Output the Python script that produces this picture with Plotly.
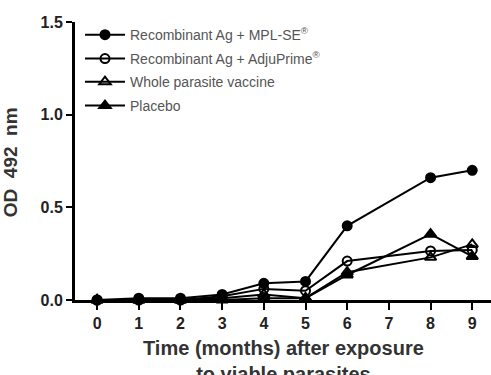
import plotly.graph_objects as go

months = [0, 1, 2, 3, 4, 5, 6, 8, 9]
mpl_se = [0.0, 0.01, 0.01, 0.03, 0.09, 0.10, 0.40, 0.66, 0.70]
adjuprime = [0.0, 0.0, 0.0, 0.02, 0.06, 0.05, 0.21, 0.265, 0.27]
whole_parasite = [0.0, 0.0, 0.0, 0.01, 0.03, 0.01, 0.15, 0.23, 0.30]
placebo = [0.0, 0.0, 0.0, 0.0, 0.01, 0.01, 0.135, 0.355, 0.235]

names = ["Recombinant Ag + MPL-SE<sup>®</sup>",
         "Recombinant Ag + AdjuPrime<sup>®</sup>",
         "Whole parasite vaccine",
         "Placebo"]
symbols = ["circle", "circle-open", "triangle-up-open", "triangle-up"]
series = [mpl_se, adjuprime, whole_parasite, placebo]
legend_ids = ["legend", "legend2", "legend3", "legend4"]
legend_y = [0.953, 0.867, 0.784, 0.698]

x_title = "<b>Time (months) after exposure<br>to viable parasites</b>"
y_title = "<b>OD\u00a0\u00a0492\u00a0\u00a0nm</b>"

fig = go.Figure()
for n, s, y, lg in zip(names, symbols, series, legend_ids):
    fig.add_trace(go.Scatter(
        x=months, y=y, name=n, mode="lines+markers", legend=lg,
        line=dict(color="black", width=2),
        marker=dict(symbol=s, size=9 if "circle" in s else 10, color="black",
                    line=dict(color="black", width=2)),
        cliponaxis=False,
    ))

bold_tick = dict(size=16, color="#222", family="Arial, Liberation Sans, sans-serif", weight="bold")

legend_common = dict(x=0.012, xanchor="left", yanchor="middle",
                     font=dict(size=14, color="#555"), bgcolor="rgba(0,0,0,0)",
                     tracegroupgap=0, itemwidth=40)

fig.update_layout(
    width=491, height=375,
    margin=dict(l=75, r=0, t=22, b=75),
    paper_bgcolor="white", plot_bgcolor="white",
    font=dict(family="Arial, Liberation Sans, sans-serif", color="#333"),
    showlegend=True,
    legend=dict(y=legend_y[0], **legend_common),
    legend2=dict(y=legend_y[1], **legend_common),
    legend3=dict(y=legend_y[2], **legend_common),
    legend4=dict(y=legend_y[3], **legend_common),
    xaxis=dict(range=[-0.53, 9.45], tickmode="array", tickvals=list(range(10)),
               automargin=False,
               showgrid=False, zeroline=False, showline=True, linecolor="black",
               linewidth=3, ticks="outside", ticklen=7, tickwidth=2, tickcolor="black",
               tickfont=bold_tick),
    yaxis=dict(range=[0, 1.5], tickmode="array", tickvals=[0, 0.5, 1.0, 1.5],
               ticktext=["0.0", "0.5", "1.0", "1.5"],
               automargin=False,
               showgrid=False, zeroline=False, showline=True, linecolor="black",
               linewidth=3, ticks="outside", ticklen=6, tickwidth=2, tickcolor="black",
               tickfont=bold_tick),
    annotations=[
        dict(text=x_title, xref="paper", yref="paper", x=0.5, y=-0.125,
             xanchor="center", yanchor="top", showarrow=False,
             font=dict(size=20, color="#333")),
        dict(text=y_title, xref="paper", yref="paper", x=-0.156, y=0.496,
             xanchor="center", yanchor="middle", showarrow=False, textangle=-90,
             font=dict(size=19, color="#333")),
    ],
)

fig.write_html("out.html")
